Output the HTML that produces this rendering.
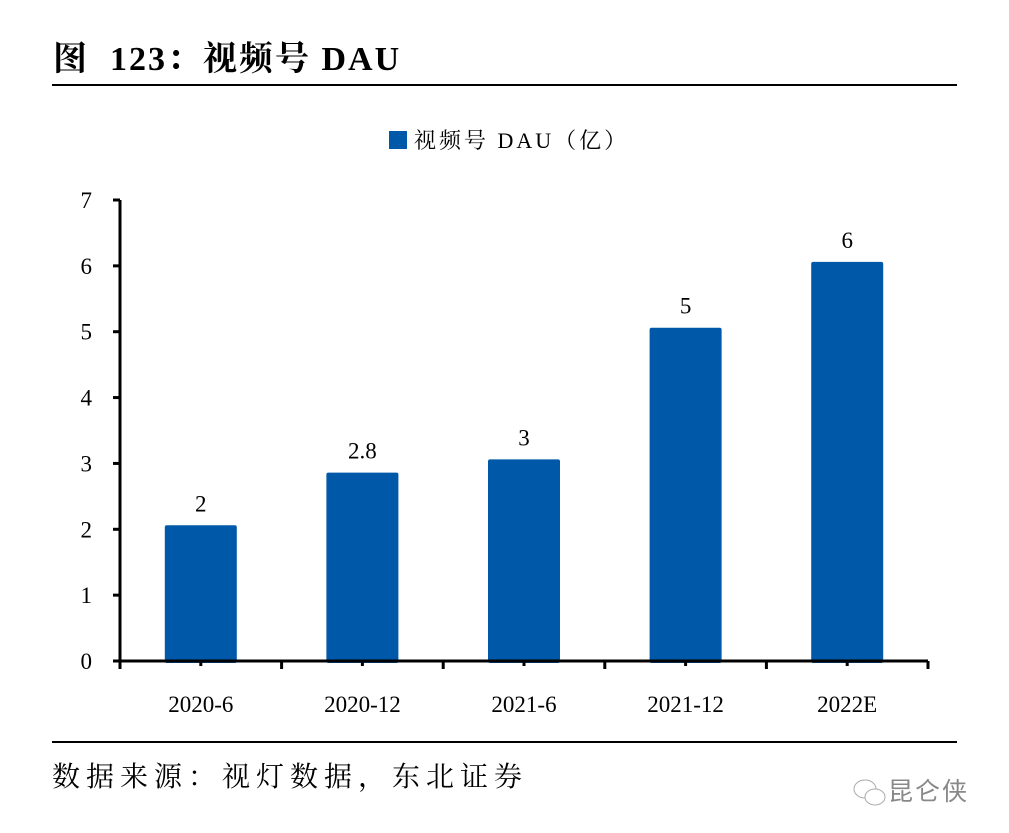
<!DOCTYPE html>
<html><head><meta charset="utf-8"><style>
body{margin:0;background:#fff;}
.wrap{position:relative;width:1009px;height:833px;overflow:hidden;font-family:"Liberation Serif","Noto Serif CJK SC",serif;}
</style></head><body>
<div class="wrap">
<div style="position:absolute;left:53px;top:31px;font-size:34px;font-weight:bold;letter-spacing:2px;font-family:'Liberation Serif','Noto Serif CJK SC',serif;">图&nbsp;&nbsp;123：视频号 DAU</div>
<div style="position:absolute;left:52px;top:84px;width:905px;height:2px;background:#000;"></div>
<div style="position:absolute;left:52px;top:741px;width:905px;height:2px;background:#000;"></div>
<div style="position:absolute;left:52px;top:755px;font-size:28px;letter-spacing:6px;font-family:'Liberation Serif','Noto Serif CJK SC',serif;">数据来源：视灯数据，东北证券</div>
<div style="position:absolute;left:852px;top:772px;font-size:25px;letter-spacing:2px;color:#888;font-family:'Noto Sans CJK SC',sans-serif;"><svg width="36" height="32" style="vertical-align:middle"><ellipse cx="13" cy="12" rx="11" ry="9" fill="none" stroke="#aaa"/><ellipse cx="23" cy="20" rx="10" ry="8" fill="#fff" stroke="#aaa"/></svg>昆仑侠</div>
<svg id="chart" width="1009" height="833" style="position:absolute;left:0;top:0"></svg>
</div>
<script>
const categories=["2020-6","2020-12","2021-6","2021-12","2022E"];
const values=[2,2.8,3,5,6];
const valueLabels=["2","2.8","3","5","6"];
const yTicks=[0,1,2,3,4,5,6,7];
const NS="http://www.w3.org/2000/svg";
const svg=document.getElementById('chart');
const x0=120,x1=928,yBase=661,yTop=200,yMax=7;
const y=v=>yBase-(yBase-yTop)*v/yMax;
const band=(x1-x0)/categories.length;
const cx=i=>x0+band*(i+0.5);
function mk(t,a){const e=document.createElementNS(NS,t);for(const k in a)e.setAttribute(k,a[k]);svg.appendChild(e);return e;}
const FONT='"Liberation Serif","Noto Serif CJK SC",serif';
let lr=mk('rect',{x:389,y:131,width:18,height:18,fill:'#0058A8'});


let lt=mk('text',{x:414,y:148,'font-size':22,'font-family':FONT,'letter-spacing':3});
lt.textContent='视频号 DAU（亿）';


values.forEach((v,i)=>{
 const r=mk('rect',{x:cx(i)-36,y:y(v)-4,width:72,height:yBase-y(v)+6,fill:'#0058A8',rx:2});
 
 
 const t=mk('text',{x:cx(i),y:y(v)-18,'font-size':23,'text-anchor':'middle','font-family':FONT});
 t.textContent=valueLabels[i];
 
 
 const c=mk('text',{x:cx(i),y:712,'font-size':23,'text-anchor':'middle','font-family':FONT});
 c.textContent=categories[i];
 
 
 const tk=mk('line',{x1:cx(i),x2:cx(i),y1:yBase,y2:yBase+5,stroke:'#000','stroke-width':3});
 
 
});
for(let i=1;i<=categories.length;i++){
 const tk=mk('line',{x1:x0+band*i,x2:x0+band*i,y1:yBase,y2:yBase+8,stroke:'#000','stroke-width':3});
 
 
}
yTicks.forEach(v=>{
 const tk=mk('line',{x1:x0-7,x2:x0,y1:y(v),y2:y(v),stroke:'#000','stroke-width':3});
 
 
 const t=mk('text',{x:92,y:y(v)+8,'font-size':23,'text-anchor':'end','font-family':FONT});
 t.textContent=v;
 
 
});
const ya=mk('line',{x1:x0,x2:x0,y1:y(7),y2:yBase+8,stroke:'#000','stroke-width':3});


const xa=mk('line',{x1:x0-7,x2:x1,y1:yBase,y2:yBase,stroke:'#000','stroke-width':3});


</script>
</body></html>
